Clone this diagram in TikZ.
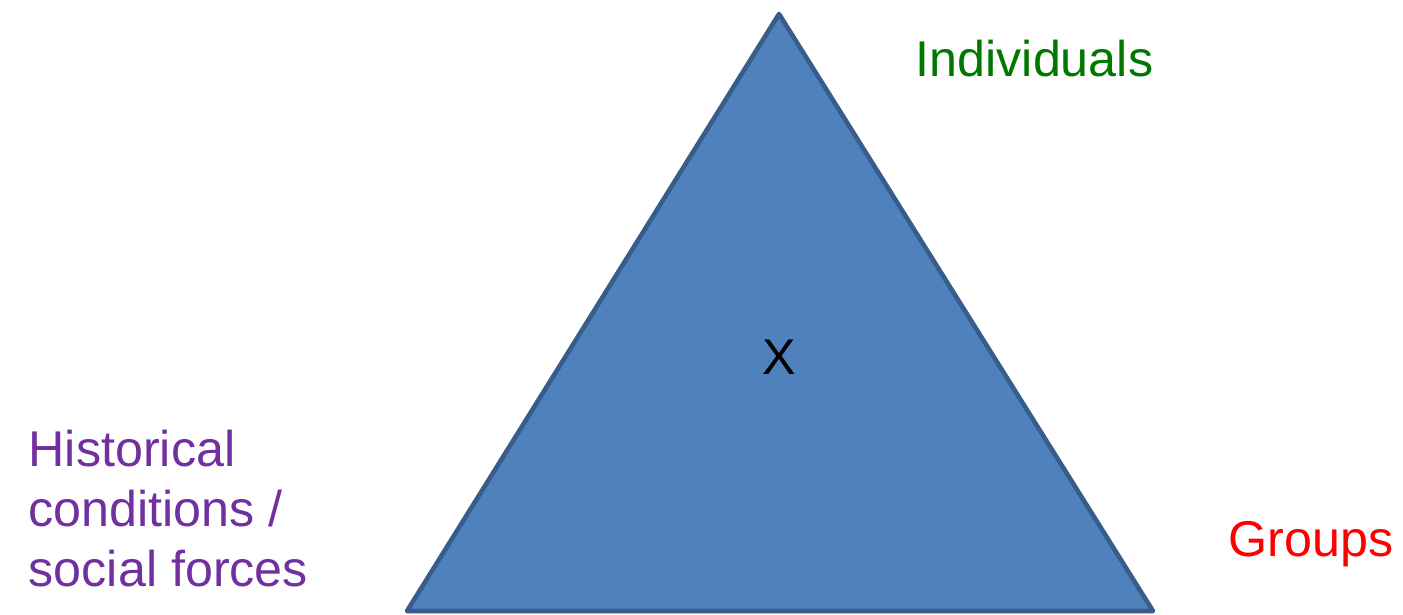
\documentclass[tikz,border=0pt]{standalone}
\usepackage{fontspec}
\setmainfont{Liberation Sans}
\usepackage{tikz}

\definecolor{triFill}{RGB}{79,129,189}
\definecolor{triEdge}{RGB}{56,93,138}
\definecolor{indGreen}{RGB}{0,120,0}
\definecolor{histPurple}{RGB}{112,48,160}

\begin{document}
\begin{tikzpicture}[
        label/.style={font=\fontsize{14.3}{17.1}\selectfont, inner sep=0pt, align=left},
        triangle/.style={fill=triFill, draw=triEdge, line width=1.3pt, line join=round}
    ]
    \useasboundingbox (0,0) rectangle (14.03,6.15);

    \coordinate (top) at (7.79,6.01);
    \coordinate (left) at (4.07,0.04);
    \coordinate (right) at (11.53,0.04);

    \draw[triangle] (top) -- (right) -- (left) -- cycle;

    \node[label, anchor=base] (x) at (7.79,2.40) {X};
    \node[label, text=indGreen, anchor=base west] (ind) at (9.15,5.38) {Individuals};
    \node[label, text=red, anchor=base west] (grp) at (12.28,0.59) {Groups};
    \node[label, text=histPurple, anchor=base west] (hist) at (0.28,0.28) {Historical\\conditions /\\social forces};

\end{tikzpicture}
\end{document}
